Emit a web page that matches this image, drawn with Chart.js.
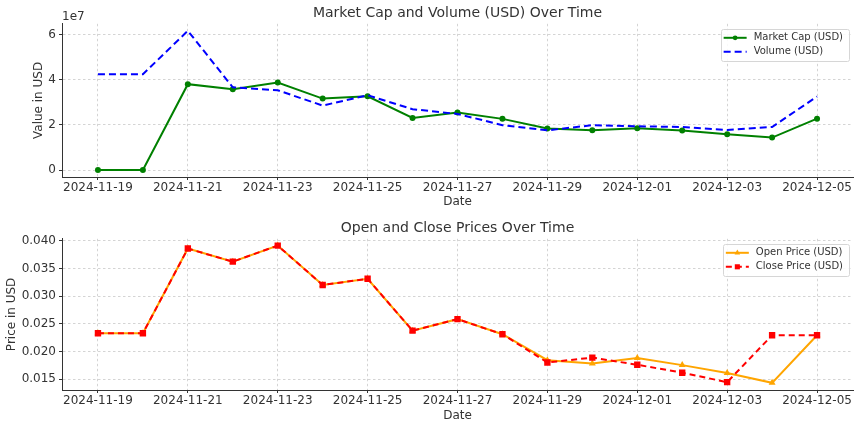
<!DOCTYPE html>
<html>
<head>
<meta charset="utf-8">
<script src="https://cdn.jsdelivr.net/npm/chart.js@4.4.1/dist/chart.umd.min.js"></script>
<style>
  html, body { margin: 0; padding: 0; background: #fff; }
  #wrap { position: relative; width: 860px; height: 429px; }
  #topChart { position: absolute; left: 0; top: 0; width: 860px; height: 215px; }
  #bottomChart { position: absolute; left: 0; top: 215px; width: 860px; height: 214px; }
</style>
</head>
<body>
<div id="wrap">
  <canvas id="topChart" width="860" height="215"></canvas>
  <canvas id="bottomChart" width="860" height="214"></canvas>
</div>
<script>
// ─── DATA ─────────────────────────────────────────────────────
const dates = [
  '2024-11-19', '2024-11-20', '2024-11-21', '2024-11-22', '2024-11-23', '2024-11-24',
  '2024-11-25', '2024-11-26', '2024-11-27', '2024-11-28', '2024-11-29', '2024-11-30',
  '2024-12-01', '2024-12-02', '2024-12-03', '2024-12-04', '2024-12-05',
];
const marketCap = [
  0.0, 0.0, 3.81e7, 3.59e7, 3.88e7, 3.17e7, 3.27e7, 2.31e7, 2.55e7,
  2.27e7, 1.84e7, 1.76e7, 1.85e7, 1.75e7, 1.59e7, 1.44e7, 2.28e7,
];
const volume = [
  4.25e7, 4.25e7, 6.18e7, 3.67e7, 3.54e7, 2.86e7, 3.32e7, 2.70e7, 2.49e7,
  1.99e7, 1.76e7, 1.99e7, 1.94e7, 1.91e7, 1.78e7, 1.91e7, 3.26e7,
];
const openPrice = [
  0.02329, 0.02329, 0.03858, 0.03621, 0.03911, 0.03200, 0.03313, 0.02377, 0.02584,
  0.02312, 0.01844, 0.01784, 0.01885, 0.01755, 0.01612, 0.01435, 0.02294,
];
const closePrice = [
  0.02329, 0.02329, 0.03858, 0.03621, 0.03911, 0.03200, 0.03313, 0.02377, 0.02584,
  0.02312, 0.01802, 0.01891, 0.01761, 0.01618, 0.01447, 0.02294, 0.02294,
];
const xTickIdx = [0, 2, 4, 6, 8, 10, 12, 14, 16];
const capTicks = [0, 2e7, 4e7, 6e7];
const priceTicks = [0.015, 0.020, 0.025, 0.030, 0.035, 0.040];

// ─── STYLE ────────────────────────────────────────────────────
const FONT = 'DejaVu Sans';
const TEXT = '#333';
const GRID = 'rgba(0,0,0,0.17)';

const points = arr => arr.map((v, i) => ({ x: i, y: v }));

// legend box drawn inside the plot, top-right, matplotlib style
const boxLegend = {
  id: 'boxLegend',
  afterDraw(chart) {
    const { ctx, chartArea } = chart;
    // legend lists datasets in plotting order (higher order = drawn first)
    const sets = [...chart.data.datasets].sort((a, b) => (b.order || 0) - (a.order || 0));
    ctx.save();
    ctx.font = `10px ${FONT}`;
    const textW = Math.max(...sets.map(d => ctx.measureText(d.label).width));
    const rowH = 14;
    const w = 3 + 23 + 7 + textW + 6;
    const h = sets.length * rowH + 4;
    const x = chartArea.right - 4 - w;
    const y = chartArea.top + 5;
    ctx.fillStyle = 'rgba(255,255,255,0.85)';
    ctx.strokeStyle = '#d6d6d6';
    ctx.lineWidth = 1;
    ctx.beginPath();
    ctx.roundRect(Math.round(x) + 0.5, Math.round(y) + 0.5, Math.round(w), Math.round(h), 2);
    ctx.fill();
    ctx.stroke();
    sets.forEach((d, i) => {
      const cy = y + 2 + rowH * i + rowH / 2;
      const sx = x + 3;
      ctx.strokeStyle = d.borderColor;
      ctx.lineWidth = d.borderWidth;
      ctx.setLineDash(d.borderDash || []);
      ctx.beginPath();
      ctx.moveTo(sx, cy);
      ctx.lineTo(sx + 23, cy);
      ctx.stroke();
      ctx.setLineDash([]);
      if (d.pointRadius > 0) {
        ctx.fillStyle = d.pointBackgroundColor;
        ctx.strokeStyle = d.pointBorderColor;
        Chart.helpers.drawPoint(ctx, { pointStyle: d.pointStyle, radius: d.pointRadius * 0.8, rotation: 0, borderWidth: 0 }, sx + 11.5, cy);
      }
      ctx.fillStyle = TEXT;
      ctx.textBaseline = 'middle';
      ctx.textAlign = 'left';
      ctx.fillText(d.label, sx + 30, cy);
    });
    ctx.restore();
  },
};

// "1e7" offset label above the y axis
const offsetText = {
  id: 'offsetText',
  afterDraw(chart, args, opts) {
    if (!opts.text) return;
    const { ctx, chartArea } = chart;
    ctx.save();
    ctx.font = `12px ${FONT}`;
    ctx.fillStyle = TEXT;
    ctx.textAlign = 'left';
    ctx.textBaseline = 'bottom';
    ctx.fillText(opts.text, chartArea.left, chartArea.top - 1);
    ctx.restore();
  },
};

function xScale(axisHeight) {
  return {
    type: 'linear',
    min: -0.8,
    max: 16.8,
    afterBuildTicks: s => { s.ticks = xTickIdx.map(v => ({ value: v })); },
    afterFit: s => { s.height = axisHeight; },
    ticks: {
      autoSkip: false, maxRotation: 0, padding: 1, color: TEXT,
      font: { family: FONT, size: 12 },
      callback: v => dates[v],
    },
    grid: { color: GRID, tickBorderDash: [], tickColor: TEXT, tickLength: 3 },
    border: { color: TEXT, width: 1, dash: [2.5, 2.5] },
    title: { display: true, text: 'Date', color: TEXT, font: { family: FONT, size: 12 }, padding: { top: 0, bottom: 6 } },
  };
}

function yScale(min, max, tickVals, label, fmt, titlePad) {
  return {
    min, max,
    afterBuildTicks: s => { s.ticks = tickVals.map(v => ({ value: v })); },
    afterFit: s => { s.width = 62; },
    ticks: { color: TEXT, padding: 3, font: { family: FONT, size: 12 }, callback: fmt },
    grid: { color: GRID, tickBorderDash: [], tickColor: TEXT, tickLength: 3 },
    border: { color: TEXT, width: 1, dash: [2.5, 2.5] },
    title: { display: true, text: label, color: TEXT, font: { family: FONT, size: 12 }, padding: { top: titlePad, bottom: 0 } },
  };
}

function baseOptions(title) {
  return {
    responsive: false,
    animation: false,
    layout: { padding: { left: 0, right: 7, top: 0, bottom: 0 } },
    plugins: {
      legend: { display: false },
      tooltip: { enabled: false },
      title: {
        display: true, fullSize: false, text: title, color: TEXT,
        font: { family: FONT, size: 14, weight: 'normal' }, padding: { top: 5, bottom: 2 },
      },
    },
  };
}

// ─── MARKET CAP / VOLUME ──────────────────────────────────────
const topOpts = baseOptions('Market Cap and Volume (USD) Over Time');
topOpts.plugins.offsetText = { text: '1e7' };
topOpts.scales = {
  x: xScale(38),
  y: yScale(-0.31e7, 6.49e7, capTicks, 'Value in USD', v => String(v / 1e7), 32),
};

new Chart(document.getElementById('topChart'), {
  type: 'line',
  data: {
    datasets: [
      {
        label: 'Market Cap (USD)',
        data: points(marketCap),
        order: 1,
        borderColor: '#008000',
        backgroundColor: '#008000',
        borderWidth: 2,
        pointStyle: 'circle',
        pointRadius: 3,
        pointBorderWidth: 0,
        pointBackgroundColor: '#008000',
        pointBorderColor: '#008000',
        tension: 0,
      },
      {
        label: 'Volume (USD)',
        data: points(volume),
        order: 0,
        borderColor: '#0000ff',
        backgroundColor: '#0000ff',
        borderWidth: 2,
        borderDash: [7, 4],
        pointRadius: 0,
        tension: 0,
      },
    ],
  },
  options: topOpts,
  plugins: [boxLegend, offsetText],
});

// ─── OPEN / CLOSE ─────────────────────────────────────────────
const botOpts = baseOptions('Open and Close Prices Over Time');
botOpts.scales = {
  x: xScale(39),
  y: yScale(0.01306, 0.04034, priceTicks, 'Price in USD', v => v.toFixed(3), 5),
};

new Chart(document.getElementById('bottomChart'), {
  type: 'line',
  data: {
    datasets: [
      {
        label: 'Open Price (USD)',
        data: points(openPrice),
        order: 1,
        borderColor: '#ffa500',
        backgroundColor: '#ffa500',
        borderWidth: 2,
        pointStyle: 'triangle',
        pointRadius: 4,
        pointBorderWidth: 0,
        pointBackgroundColor: '#ffa500',
        pointBorderColor: '#ffa500',
        tension: 0,
      },
      {
        label: 'Close Price (USD)',
        data: points(closePrice),
        order: 0,
        borderColor: '#ff0000',
        backgroundColor: '#ff0000',
        borderWidth: 2,
        borderDash: [6, 4],
        pointStyle: 'rect',
        pointRadius: 4.5,
        pointBorderWidth: 0,
        pointBackgroundColor: '#ff0000',
        pointBorderColor: '#ff0000',
        tension: 0,
      },
    ],
  },
  options: botOpts,
  plugins: [boxLegend],
});
</script>
</body>
</html>
